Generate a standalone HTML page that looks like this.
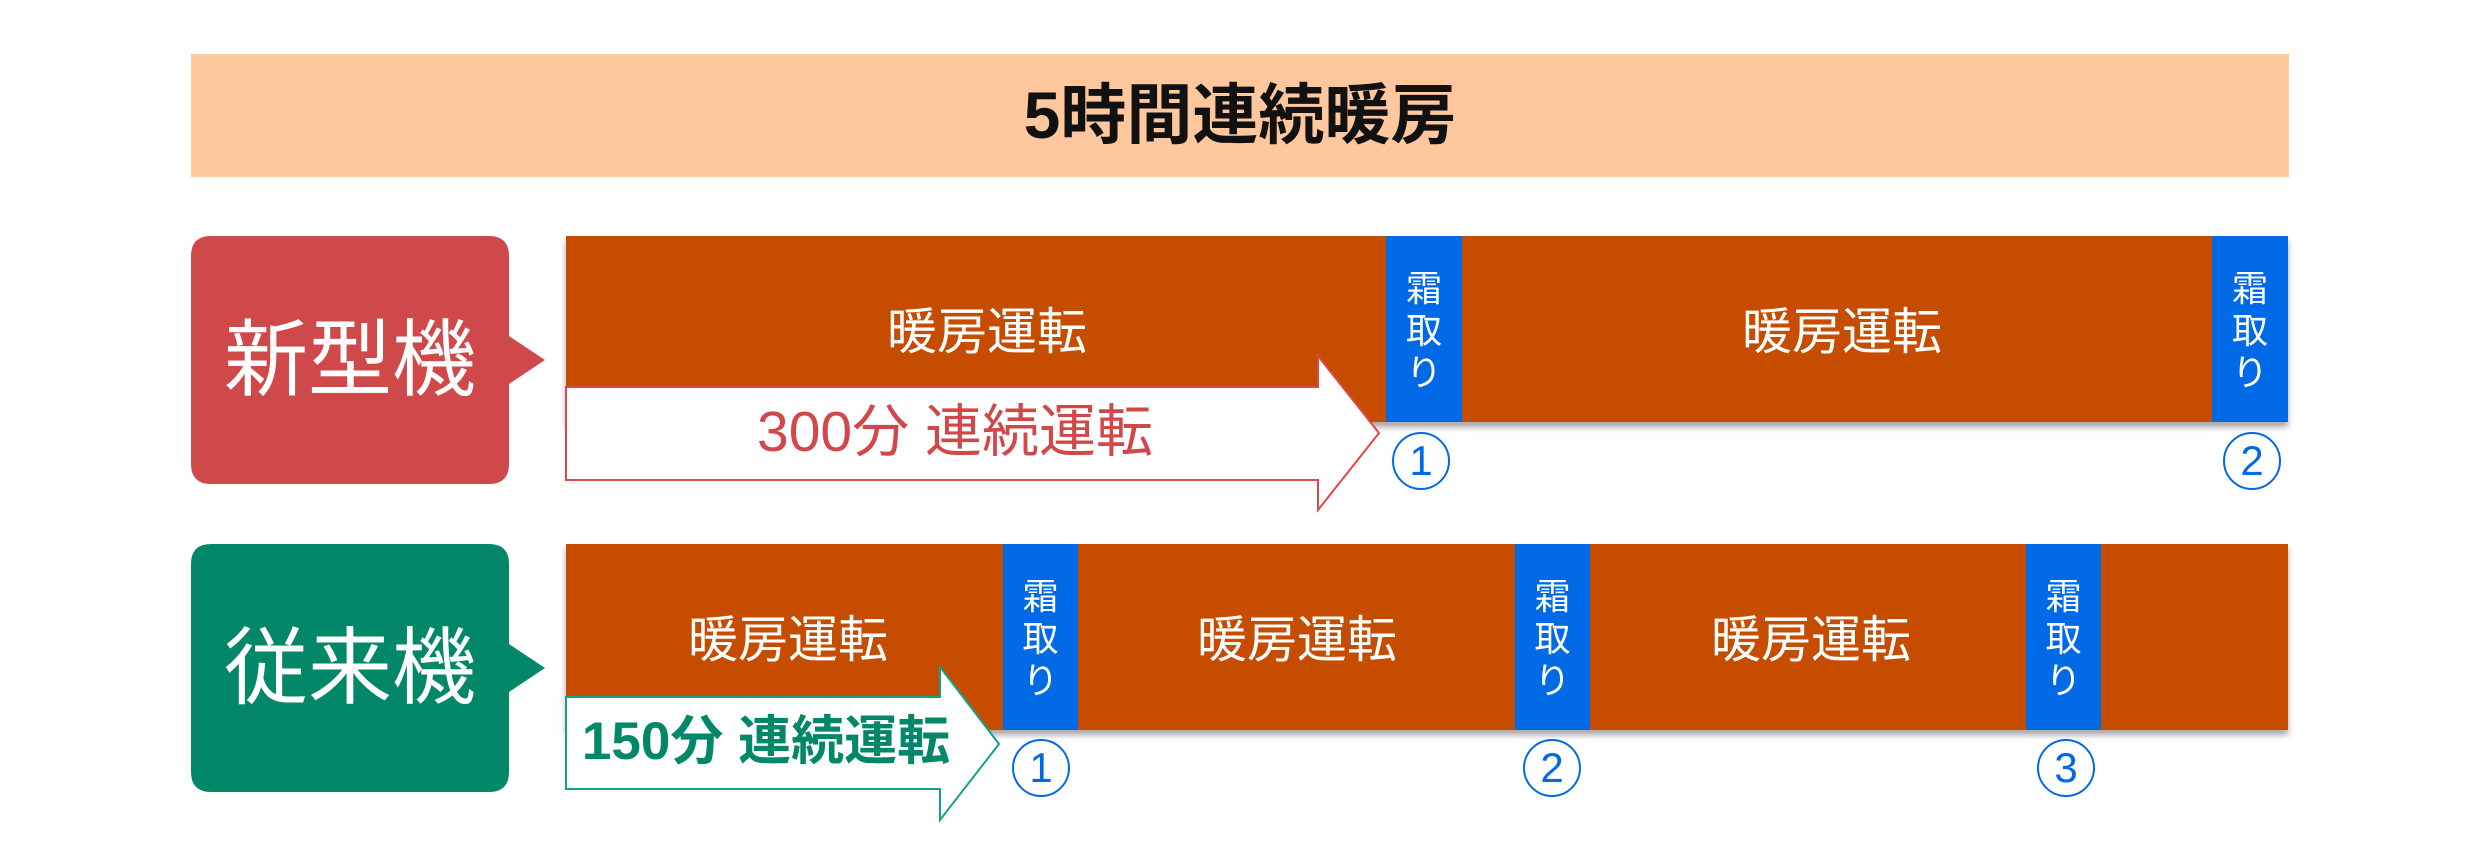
<!DOCTYPE html>
<html><head><meta charset="utf-8"><style>
body{margin:0;width:2480px;height:860px;background:#fff;position:relative;overflow:hidden;font-family:"Liberation Sans","Noto Sans CJK JP",sans-serif}
.a{position:absolute}
.bar{background:#c64c00;box-shadow:0 5px 6px rgba(0,0,0,.35)}
.blue{background:#0069e6;color:#fff;font-size:36px;line-height:42px;text-align:center;padding-top:32px;box-sizing:border-box}
.t{color:#fff;font-size:50px;text-align:center;line-height:50px}
.c{width:54px;height:54px;border:2px solid #0069e6;border-radius:50%;color:#0069e6;font-size:42px;line-height:54px;text-align:center}
</style></head><body>
<div class="a" style="left:191px;top:54px;width:2098px;height:123px;background:#fec79e;font-size:66px;line-height:123px;text-align:center;font-weight:bold;color:#111">5時間連続暖房</div>

<svg class="a" style="left:0;top:0" width="2480" height="860">
<path d="M211 236 H489 Q509 236 509 256 V336 L545 360 L509 384 V464 Q509 484 489 484 H211 Q191 484 191 464 V256 Q191 236 211 236Z" fill="#cf494b"/>
<path d="M211 544 H489 Q509 544 509 564 V644 L545 668 L509 692 V772 Q509 792 489 792 H211 Q191 792 191 772 V564 Q191 544 211 544Z" fill="#038769"/>
</svg>
<div class="a t" style="left:191px;top:316px;width:318px;font-size:84px;line-height:88px">新型機</div>
<div class="a t" style="left:191px;top:624px;width:318px;font-size:84px;line-height:88px">従来機</div>

<div class="a bar" style="left:566px;top:236px;width:1722px;height:186px"></div>
<div class="a bar" style="left:566px;top:544px;width:1722px;height:186px"></div>

<div class="a t" style="left:837px;top:307px;width:300px">暖房運転</div>
<div class="a t" style="left:1692px;top:307px;width:300px">暖房運転</div>
<div class="a t" style="left:638px;top:615px;width:300px">暖房運転</div>
<div class="a t" style="left:1147px;top:615px;width:300px">暖房運転</div>
<div class="a t" style="left:1661px;top:615px;width:300px">暖房運転</div>

<div class="a blue" style="left:1386px;top:236px;width:76px;height:186px">霜<br>取<br>り</div>
<div class="a blue" style="left:2212px;top:236px;width:76px;height:186px">霜<br>取<br>り</div>
<div class="a blue" style="left:1003px;top:544px;width:75px;height:186px">霜<br>取<br>り</div>
<div class="a blue" style="left:1515px;top:544px;width:75px;height:186px">霜<br>取<br>り</div>
<div class="a blue" style="left:2026px;top:544px;width:75px;height:186px">霜<br>取<br>り</div>

<svg class="a" style="left:0;top:0" width="2480" height="860">
<path d="M566 387 H1318 V356 L1379 433 L1318 510 V480 H566Z" fill="#fff" stroke="#e0474a" stroke-width="2"/>
<path d="M566 697 H940 V667 L999 744 L940 820 V789 H566Z" fill="#fff" stroke="#10a487" stroke-width="2"/>
</svg>
<div class="a" style="left:690px;top:400px;width:530px;text-align:center;font-size:57px;line-height:64px;color:#d0484a">300分 連続運転</div>
<div class="a" style="left:566px;top:710px;width:400px;text-align:center;font-size:53px;line-height:64px;color:#038769;font-weight:bold">150分 連続運転</div>

<div class="a c" style="left:1392px;top:432px">1</div>
<div class="a c" style="left:2223px;top:432px">2</div>
<div class="a c" style="left:1012px;top:739px">1</div>
<div class="a c" style="left:1523px;top:739px">2</div>
<div class="a c" style="left:2037px;top:739px">3</div>
</body></html>
